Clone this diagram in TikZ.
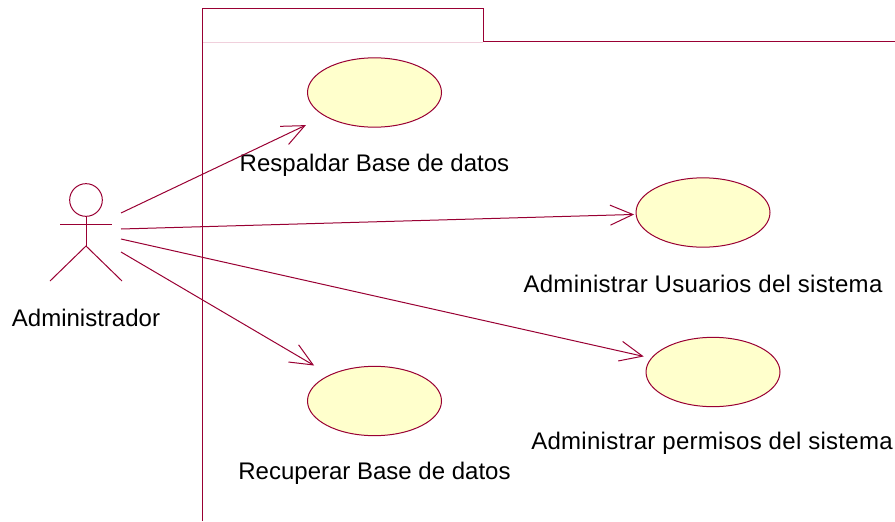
\documentclass[tikz,border=0pt]{standalone}
\usepackage{fontspec}
\setmainfont{Liberation Sans}
\usepackage{xcolor}
\usetikzlibrary{arrows.meta, positioning, shapes.geometric}
\definecolor{umlline}{HTML}{990033}
\definecolor{umlfill}{HTML}{FFFFCC}
\definecolor{umlpale}{HTML}{F0D0DC}
\tikzset{
  umlcase/.style={ellipse, draw=umlline, fill=umlfill, line width=0.75pt, minimum width=100.5pt, minimum height=52pt, inner sep=0pt, outer sep=0pt},
  umllabel/.style={font=\fontsize{18}{20}\selectfont, text=black, inner sep=0pt},
  umlwide/.style={umllabel, font=\fontsize{18}{20}\selectfont\addfontfeature{LetterSpace=1.2}},
  umlflow/.style={draw=umlline, line width=0.75pt, -{Straight Barb[length=17pt,width=15pt]}},
  umlpart/.style={draw=umlline, line width=0.75pt},
}
\begin{document}
\begin{tikzpicture}[x=0.75pt, y=-0.75pt]
\useasboundingbox (0,0) rectangle (895,521);
% package frame
\draw[umlpale, line width=0.75pt](202,42)--(483,42);
\draw[umlpart](202,521)--(202,8)--(483,8)--(483,41.5)--(895,41.5);
% actor
\node[circle, draw=umlline, line width=0.75pt, minimum size=24.5pt, inner sep=0pt, outer sep=0pt] (admin) at (86,200) {};
\coordinate (hip) at (86,246);
\coordinate (armL) at (60,224);
\coordinate (armR) at (112,224);
\coordinate (legL) at (50,281);
\coordinate (legR) at (122,281);
\draw[umlpart](admin.south)--(hip);
\draw[umlpart](armL)--(armR);
\draw[umlpart](legL)--(hip)--(legR);
\node[umllabel] (adminText) at (86,318) {Administrador};
% use cases
\node[umlcase] (respaldar) at (374.5,92.5) {};
\node[umlcase] (usuarios) at (703,212.5) {};
\node[umlcase] (permisos) at (713,372) {};
\node[umlcase] (recuperar) at (374.5,401) {};
\node[umllabel] (respaldarText) at (374.5,165) {Respaldar Base de datos};
\node[umlwide] (usuariosText) at (703,284) {Administrar Usuarios del sistema};
\node[umlwide] (permisosText) at (712,443) {Administrar permisos del sistema};
\node[umllabel] (recuperarText) at (374.5,473) {Recuperar Base de datos};
% connectors
\coordinate (out1) at (121,213);
\coordinate (out2) at (121,229);
\coordinate (out3) at (121,239);
\coordinate (out4) at (121,252);
\draw[umlflow, shorten >=16pt](out1)--(respaldar);
\draw[umlflow, shorten >=1.5pt](out2)--(usuarios);
\draw[umlflow, shorten >=6pt](out3)--(permisos);
\draw[umlflow, shorten >=14pt](out4)--(recuperar);
\end{tikzpicture}
\end{document}
